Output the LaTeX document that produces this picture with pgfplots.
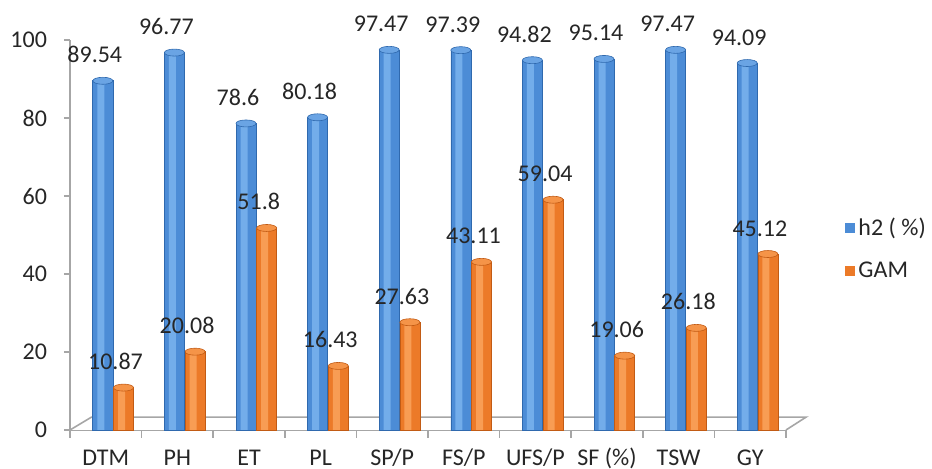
\documentclass[border=0pt]{standalone}
\usepackage{fontspec}
\setmainfont{Carlito}
\usepackage{pgfplots}
\usepackage{pgfplotstable}
\pgfplotsset{compat=1.18}
\definecolor{bl}{HTML}{4C8CD6}
\definecolor{bllight}{HTML}{7DB6F0}
\definecolor{blcap}{HTML}{6AA4E4}
\definecolor{bldark}{HTML}{2F69AE}
\definecolor{orc}{HTML}{EC7A28}
\definecolor{orlight}{HTML}{FCA660}
\definecolor{orcap}{HTML}{F59448}
\definecolor{ordark}{HTML}{C25B14}
\definecolor{txt}{HTML}{262626}
\definecolor{ax}{HTML}{A6A6A6}
\pgfplotstableread{
x h2 gam
0 89.54 10.87
1 96.77 20.08
2 78.6 51.8
3 80.18 16.43
4 97.47 27.63
5 97.39 43.11
6 94.82 59.04
7 95.14 19.06
8 97.47 26.18
9 94.09 45.12
}\datatable
\begin{document}
\begin{tikzpicture}[font=\fontsize{12}{14}\selectfont]
\path[use as bounding box] (-35pt,-19.5pt) rectangle (431pt,215pt);
\begin{axis}[
  at={(0,0)}, anchor=south west,
  scale only axis, width=358pt, height=195pt,
  xmin=-0.5, xmax=9.5, ymin=0, ymax=100,
  clip=false,
  axis lines*=left,
  axis line style={ax, line width=0.8pt},
  ytick={0,20,...,100},
  xtick={0,...,9},
  xticklabels={DTM,PH,ET,PL,SP/P,FS/P,UFS/P,SF (\%),TSW,GY},
  minor xtick={-0.5,0.5,...,9.5},
  tick align=outside,
  major tick length=3pt, minor tick length=4pt,
  tick style={ax, line width=0.8pt},
  every major x tick/.append style={draw=none},
  ticklabel style={text=txt, font=\fontsize{12}{14}\selectfont},
  yticklabel style={xshift=-5pt},
  xticklabel style={anchor=base, yshift=-15pt},
  /pgf/number format/assume math mode=true,
  legend style={at={(1.073,0.464)}, anchor=west, draw=none, fill=none,
    row sep=8pt, font=\fontsize{12}{14}\selectfont, text=txt},
  legend cell align=left,
  every node near coord/.append style={anchor=base, yshift=9pt, xshift=-4pt,
    text=txt, font=\fontsize{12}{14}\selectfont},
]
\draw[ax, line width=0.8pt, fill=white] (axis cs:-0.5,0) -- (axis cs:-0.2,3.3) -- (axis cs:9.78,3.3) -- (axis cs:9.5,0);
% blue series
\addplot[forget plot, ybar, bar width=10pt, bar shift=-1.5pt, draw=bldark, line width=0.3pt, fill=bl]
  table[x=x, y=h2] {\datatable};
\addplot[forget plot, ybar, bar width=3.5pt, bar shift=-2.5pt, draw=none, fill=bllight, fill opacity=0.8,
  nodes near coords,
  mark=*, mark size=5pt, mark options={fill=blcap, draw=bldark, line width=0.3pt, fill opacity=1, yscale=0.35, xshift=-1.5pt}]
  table[x=x, y=h2] {\datatable};
% orange series
\addplot[forget plot, ybar, bar width=10pt, bar shift=8.85pt, draw=ordark, line width=0.3pt, fill=orc]
  table[x=x, y=gam] {\datatable};
\addplot[forget plot, ybar, bar width=3.5pt, bar shift=7.85pt, draw=none, fill=orlight, fill opacity=0.8,
  nodes near coords,
  mark=*, mark size=5pt, mark options={fill=orcap, draw=ordark, line width=0.3pt, fill opacity=1, yscale=0.35, xshift=8.85pt}]
  table[x=x, y=gam] {\datatable};
\addlegendimage{legend image code/.code={\fill[bl] (0pt,-2.25pt) rectangle (4.5pt,2.25pt);}}
\addlegendentry{h2 ( \%)}
\addlegendimage{legend image code/.code={\fill[orc] (0pt,-2.25pt) rectangle (4.5pt,2.25pt);}}
\addlegendentry{GAM}
\end{axis}
\end{tikzpicture}
\end{document}
